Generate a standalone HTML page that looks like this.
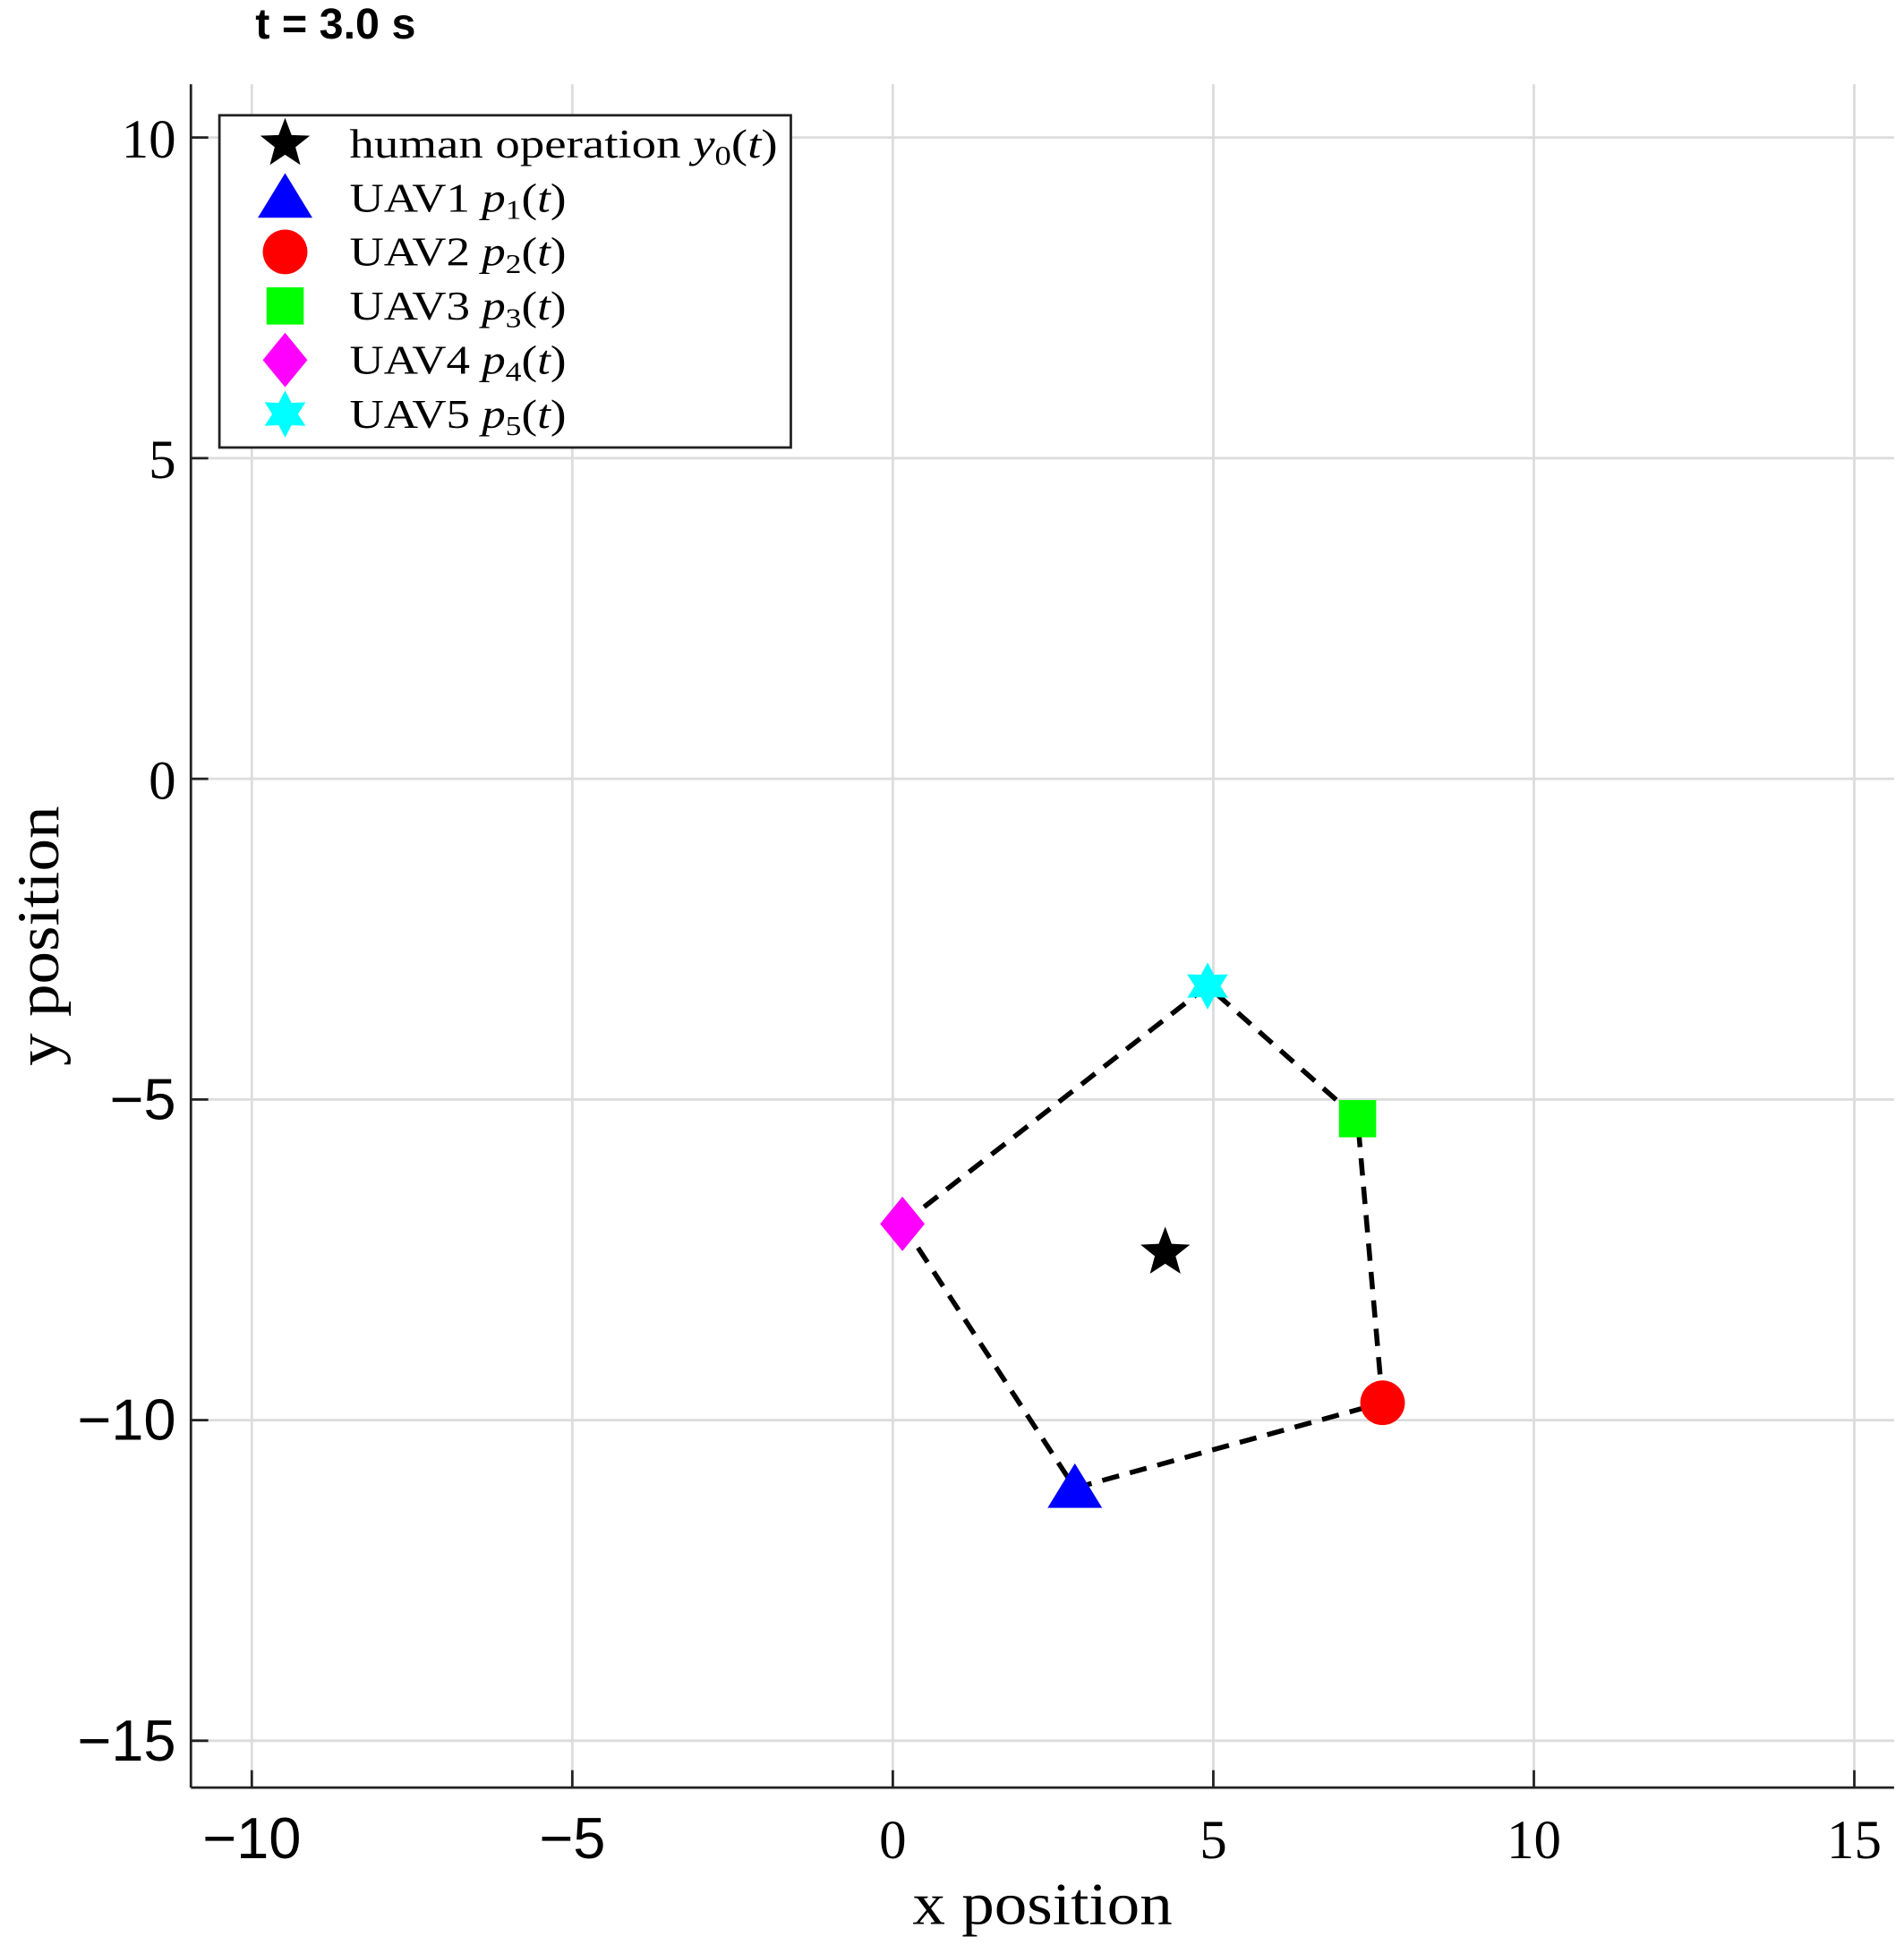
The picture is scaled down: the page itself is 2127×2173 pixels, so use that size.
<!DOCTYPE html>
<html><head><meta charset="utf-8"><style>
html,body{margin:0;padding:0;background:#fff;}
svg{display:block;}
</style></head><body>
<svg id="chart" width="2127" height="2173" viewBox="0 0 1536 1569" preserveAspectRatio="none" xmlns="http://www.w3.org/2000/svg">
<rect x="0" y="0" width="1536" height="1569" fill="#fff"/>
<text x="206" y="31" font-family="Liberation Sans, sans-serif" font-weight="bold" font-size="35">t = 3.0 s</text>
<g id="grid"></g>
<g id="axes"></g>
<g id="series"></g>
<g id="legend"></g>
<text transform="translate(841,1552) scale(1.1,1)" text-anchor="middle" font-family="Liberation Serif, serif" font-size="48">x position</text>
<text transform="translate(47,755) rotate(-90) scale(1.1,1)" text-anchor="middle" font-family="Liberation Serif, serif" font-size="48">y position</text>
</svg>
<script>
const xTicks=[-10,-5,0,5,10,15];
const yTicks=[10,5,0,-5,-10,-15];
const humanPos=[4.25,-7.39];
const uavX=[2.84,7.64,7.25,0.15,4.91];
const uavY=[-11.06,-9.73,-5.30,-6.94,-3.23];
const edgeFrom=[0,1,2,4,3];
const edgeTo=[1,2,4,3,0];
const L=154,R=1528,T=68,B=1442;
const xmin=-10.95,xmax=15.62,ymin=-15.73,ymax=10.83;
const sx=v=>L+(v-xmin)/(xmax-xmin)*(R-L);
const sy=v=>B-(v-ymin)/(ymax-ymin)*(B-T);
const NS="http://www.w3.org/2000/svg";
function mk(tag,attrs,parent){const e=document.createElementNS(NS,tag);for(const k in attrs)e.setAttribute(k,attrs[k]);parent.appendChild(e);return e;}
const grid=document.getElementById('grid'),axes=document.getElementById('axes'),ser=document.getElementById('series'),leg=document.getElementById('legend');
xTicks.forEach(t=>{
 const g=mk('line',{x1:sx(t),x2:sx(t),y1:T,y2:B,stroke:'#dcdcdc','stroke-width':2},grid);
 
 
 mk('line',{x1:sx(t),x2:sx(t),y1:B,y2:B-14,stroke:'#222','stroke-width':2},axes);
 const neg=t<0;
 const tx=mk('text',{x:sx(t),y:B+57,'text-anchor':'middle','font-family':neg?'Liberation Sans, sans-serif':'Liberation Serif, serif','font-size':neg?47:44},axes);
 tx.textContent=neg?'\u2212'+Math.abs(t):String(t);
 
 
});
yTicks.forEach(t=>{
 const g=mk('line',{x1:L,x2:R,y1:sy(t),y2:sy(t),stroke:'#dcdcdc','stroke-width':2},grid);
 
 
 mk('line',{x1:L,x2:L+14,y1:sy(t),y2:sy(t),stroke:'#222','stroke-width':2},axes);
 const neg=t<0;
 const tx=mk('text',{x:L-12,y:sy(t)+16,'text-anchor':'end','font-family':neg?'Liberation Sans, sans-serif':'Liberation Serif, serif','font-size':neg?47:44},axes);
 tx.textContent=neg?'\u2212'+Math.abs(t):String(t);
 
 
});
mk('line',{x1:L,x2:L,y1:T,y2:B,stroke:'#222','stroke-width':2},axes);
mk('line',{x1:L,x2:R,y1:B,y2:B,stroke:'#222','stroke-width':2},axes);
edgeFrom.forEach((a,i)=>{
 const b=edgeTo[i];
 const l=mk('line',{x1:sx(uavX[a]),y1:sy(uavY[a]),x2:sx(uavX[b]),y2:sy(uavY[b]),stroke:'#000','stroke-width':4,'stroke-dasharray':'14 9'},ser);
 
 
});
function star(cx,cy,r,n,inner){let p=[];for(let i=0;i<2*n;i++){const rr=i%2?r*inner:r;const a=-Math.PI/2+i*Math.PI/n;p.push((cx+rr*Math.cos(a)).toFixed(1)+','+(cy+rr*Math.sin(a)).toFixed(1));}return p.join(' ');}
function marker(kind,cx,cy,parent){
 if(kind===0)return mk('polygon',{points:star(cx,cy,21,5,0.42),fill:'#000'},parent);
 if(kind===1)return mk('polygon',{points:`${cx},${cy-20} ${cx+22},${cy+16} ${cx-22},${cy+16}`,fill:'#0000ff'},parent);
 if(kind===2)return mk('circle',{cx:cx,cy:cy,r:18,fill:'#ff0000'},parent);
 if(kind===3)return mk('rect',{x:cx-15,y:cy-15,width:30,height:30,fill:'#00ff00'},parent);
 if(kind===4)return mk('polygon',{points:`${cx},${cy-22} ${cx+18},${cy} ${cx},${cy+22} ${cx-18},${cy}`,fill:'#ff00ff'},parent);
 return mk('polygon',{points:star(cx,cy,19,6,0.55),fill:'#00ffff'},parent);
}
const hm=marker(0,sx(humanPos[0]),sy(humanPos[1]),ser);


uavX.forEach((x,i)=>{
 const m=marker(i+1,sx(x),sy(uavY[i]),ser);
 
 
});
const lb=mk('rect',{x:177,y:93,width:461,height:268,fill:'#fff',stroke:'#222','stroke-width':2},leg);


const labels=[['human operation ','y','0'],['UAV1 ','p','1'],['UAV2 ','p','2'],['UAV3 ','p','3'],['UAV4 ','p','4'],['UAV5 ','p','5']];
labels.forEach((lab,i)=>{
 const y=116+i*43.6;
 marker(i,230,y,leg);
 const t=mk('text',{transform:`translate(282,${y+11}) scale(${i===0?1.2:1.16},1)`,'font-family':'Liberation Serif, serif','font-size':33},leg);
 
 
 t.appendChild(document.createTextNode(lab[0]));
 const it=mk('tspan',{'font-style':'italic'},t);it.textContent=lab[1];
 const sb=mk('tspan',{'font-size':22,dy:6},t);sb.textContent=lab[2];
 const r=mk('tspan',{dy:-6},t);r.textContent='(';
 const it2=mk('tspan',{'font-style':'italic'},t);it2.textContent='t';
 const r2=mk('tspan',{},t);r2.textContent=')';
});
</script>
</body></html>
